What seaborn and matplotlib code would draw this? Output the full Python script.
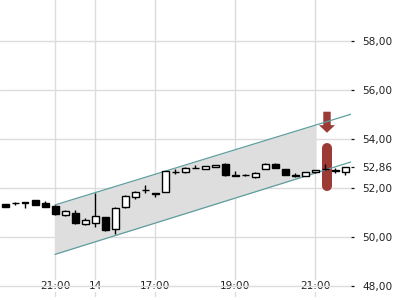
import matplotlib
matplotlib.use("Agg")
import matplotlib.pyplot as plt
import seaborn as sns
import pandas as pd
import numpy as np

# ---- data ----
opens  = [51.32, 51.37, 51.41, 51.50, 51.36, 51.26, 50.88, 50.96, 50.53, 50.55,
          50.80, 50.32, 51.20, 51.64, 51.91, 51.79, 51.84, 52.66, 52.63, 52.80,
          52.76, 52.85, 52.96, 52.53, 52.52, 52.45, 52.77, 52.97, 52.76, 52.53,
          52.50, 52.63, 52.75, 52.74, 52.66]
highs  = [51.34, 51.42, 51.42, 51.51, 51.46, 51.30, 51.09, 51.09, 50.75, 51.78,
          50.82, 51.22, 51.70, 51.85, 52.13, 51.80, 52.70, 52.77, 52.86, 52.93,
          52.90, 52.94, 53.00, 52.69, 52.56, 52.63, 53.03, 53.03, 52.77, 52.62,
          52.64, 52.73, 52.96, 52.80, 52.87]
lows   = [51.21, 51.31, 51.16, 51.28, 51.22, 50.90, 50.86, 50.53, 50.48, 50.41,
          50.24, 50.10, 51.18, 51.56, 51.78, 51.61, 51.83, 52.55, 52.62, 52.79,
          52.75, 52.84, 52.48, 52.48, 52.50, 52.40, 52.76, 52.79, 52.53, 52.43,
          52.49, 52.62, 52.73, 52.62, 52.51]
closes = [51.22, 51.37, 51.36, 51.29, 51.23, 50.92, 51.04, 50.55, 50.67, 50.84,
          50.28, 51.16, 51.67, 51.82, 51.91, 51.74, 52.69, 52.66, 52.80, 52.79,
          52.89, 52.93, 52.51, 52.49, 52.52, 52.62, 52.97, 52.80, 52.54, 52.49,
          52.63, 52.72, 52.77, 52.70, 52.86]

channel_x     = [5.0, 34.7]
channel_upper = [51.30, 55.02]
channel_lower = [49.28, 53.07]
shade_x       = [5.0, 31.1]
shade_upper   = [51.30, 54.57]
shade_lower   = [49.28, 52.61]

signal_x = 32.2
arrow_top, arrow_tip = 55.11, 54.25
capsule_top, capsule_bottom = 53.62, 52.08

x_tick_pos = [5, 9, 15, 23, 31]
x_tick_labels = ["21:00", "14", "17:00", "19:00", "21:00"]
y_tick_values = [48, 50, 52, 52.86, 54, 56, 58]
y_tick_labels = ["48,00", "50,00", "52,00", "52,86", "54,00", "56,00", "58,00"]

# ---- plot ----
sns.set_style("white")
plt.rcParams['font.family'] = ['DejaVu Sans']

fig = plt.figure(figsize=(4, 3), dpi=100)
ax = fig.add_axes([0, 3/300, 351/400, 297/300])
ax.set_xlim(-0.5, 34.6)
ax.set_ylim(47.538, 59.675)

for s in ax.spines.values():
    s.set_visible(False)

# grid
ax.set_xticks(x_tick_pos)
ax.set_xticklabels(x_tick_labels)
ax.set_yticks(y_tick_values)
ax.set_yticklabels(y_tick_labels)
ax.grid(True, color="#dcdcdc", linewidth=1.0)
ax.set_axisbelow(True)
for val, gl in zip(y_tick_values, ax.yaxis.get_gridlines()):
    if abs(val - 52.86) < 1e-6:
        gl.set_visible(False)

ax.yaxis.tick_right()
ax.tick_params(axis="y", direction="out", length=2.5, width=0.9, colors="#111111",
               labelsize=7.6, pad=5.5, labelcolor="#222222")
ax.tick_params(axis="x", direction="in", length=3, width=0.9, colors="#111111",
               labelsize=7.6, pad=-11.5, labelcolor="#222222")
for lbl in ax.get_xticklabels():
    lbl.set_bbox(dict(facecolor="white", edgecolor="none", pad=0.5))

# channel shading and lines
ax.fill_between(shade_x, shade_lower, shade_upper, color="#dedede", linewidth=0, zorder=1)

red = "#9c3b36"
# capsule
ax.plot([signal_x, signal_x], [capsule_top, capsule_bottom], color=red,
        linewidth=7.2, solid_capstyle="round", zorder=2)
# arrow
ax.arrow(signal_x, arrow_top, 0, arrow_tip - arrow_top, width=0.74, head_width=1.6,
         head_length=0.31, length_includes_head=True, color=red, linewidth=0, zorder=2)

ch = pd.DataFrame({"x": channel_x * 2,
                   "y": channel_upper + channel_lower,
                   "line": ["upper"] * 2 + ["lower"] * 2})
sns.lineplot(data=ch, x="x", y="y", units="line", estimator=None,
             color="#5f9ea0", linewidth=0.9, ax=ax, zorder=3)
ax.set_xlabel("")
ax.set_ylabel("")

# candles
idx = np.arange(len(opens))
o = np.array(opens); c = np.array(closes)
ax.vlines(idx, lows, highs, color="black", linewidth=1.0, zorder=4)
bottoms = np.minimum(o, c)
heights = np.abs(c - o)
faces = ["white" if cc > oo else "black" for oo, cc in zip(o, c)]
ax.bar(idx, heights, bottom=bottoms, width=0.7, color=faces,
       edgecolor="black", linewidth=1.0, zorder=5)

fig.savefig("out.png", dpi=100)
